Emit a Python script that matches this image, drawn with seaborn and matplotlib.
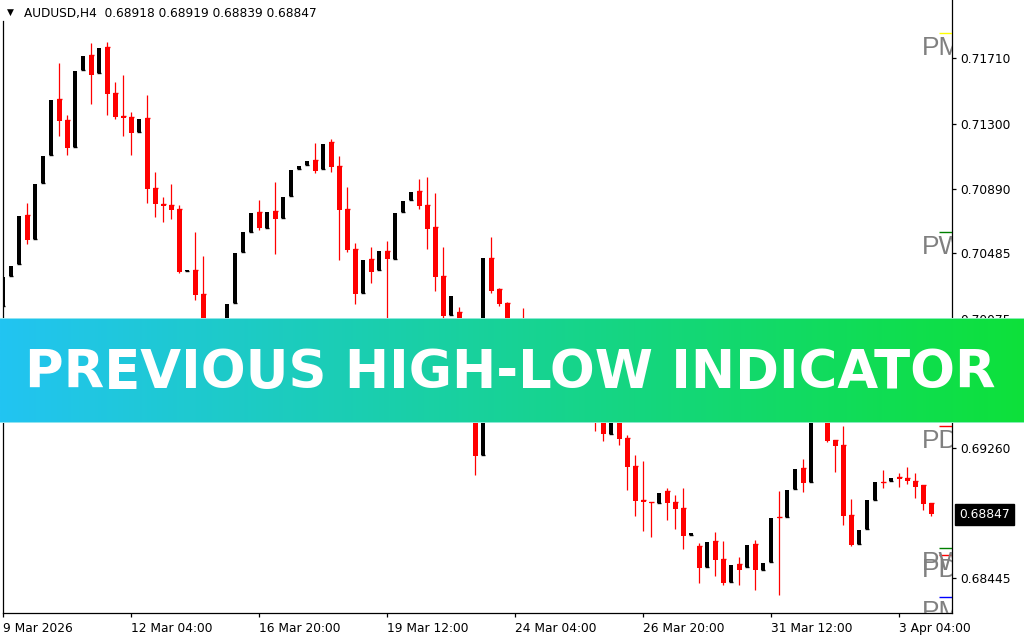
import numpy as np
import pandas as pd
import matplotlib
matplotlib.use("Agg")
import matplotlib.pyplot as plt
import matplotlib.transforms as mtransforms
import seaborn as sns

# ---------------- data (AUDUSD H4 candles) ----------------
opens = [0.70154, 0.70343, 0.70418, 0.70726, 0.70575, 0.70927, 0.71103, 0.71454, 0.71322, 0.71153,
         0.71636, 0.71731, 0.71618, 0.71781, 0.71492, 0.71348, 0.71341, 0.71247, 0.71335, 0.70895,
         0.70795, 0.70789, 0.70763, 0.70377, 0.70380, 0.70230, 0.69941, 0.69784, 0.69909, 0.70173,
         0.70493, 0.70619, 0.70745, 0.70644, 0.70751, 0.70707, 0.70845, 0.71015, 0.71040, 0.71071,
         0.71015, 0.71184, 0.71034, 0.70763, 0.70512, 0.70236, 0.70450, 0.70380, 0.70500, 0.70450,
         0.70745, 0.70820, 0.70877, 0.70789, 0.70650, 0.70343, 0.70098, 0.70117, 0.69909, 0.69614,
         0.69219, 0.70456, 0.70261, 0.70173, 0.69972, 0.70035, 0.69878, 0.69740, 0.69815, 0.69639,
         0.69564, 0.69614, 0.69501, 0.69451, 0.69501, 0.69451, 0.69350, 0.69451, 0.69327, 0.69151,
         0.68936, 0.68923, 0.68919, 0.68993, 0.68923, 0.68886, 0.68718, 0.68649, 0.68517, 0.68679,
         0.68566, 0.68423, 0.68534, 0.68517, 0.68660, 0.68498, 0.68549, 0.68829, 0.68831, 0.69007,
         0.69137, 0.69051, 0.69501, 0.69577, 0.69313, 0.69281, 0.68842, 0.68662, 0.68756, 0.68938,
         0.69051, 0.69053, 0.69080, 0.69074, 0.69055, 0.69030, 0.68918]
highs = [0.70338, 0.70406, 0.70720, 0.70803, 0.70921, 0.71096, 0.71448, 0.71680, 0.71354, 0.71630,
         0.71724, 0.71806, 0.71775, 0.71812, 0.71561, 0.71605, 0.71373, 0.71329, 0.71479, 0.70996,
         0.70839, 0.70921, 0.70789, 0.70380, 0.70619, 0.70468, 0.70004, 0.69909, 0.70167, 0.70487,
         0.70619, 0.70738, 0.70820, 0.70745, 0.70933, 0.70839, 0.71008, 0.71034, 0.71065, 0.71178,
         0.71172, 0.71203, 0.71096, 0.70902, 0.70550, 0.70443, 0.70525, 0.70500, 0.70563, 0.70738,
         0.70814, 0.70870, 0.70952, 0.70964, 0.70864, 0.70525, 0.70217, 0.70148, 0.69941, 0.69658,
         0.70456, 0.70588, 0.70267, 0.70179, 0.70035, 0.70142, 0.69909, 0.69815, 0.69847, 0.69690,
         0.69614, 0.69639, 0.69533, 0.69501, 0.69533, 0.69476, 0.69451, 0.69489, 0.69344, 0.69219,
         0.69181, 0.68923, 0.68980, 0.69011, 0.68967, 0.69011, 0.68729, 0.68668, 0.68672, 0.68735,
         0.68679, 0.68528, 0.68578, 0.68653, 0.68685, 0.68540, 0.68825, 0.68994, 0.68999, 0.69131,
         0.69194, 0.69501, 0.69577, 0.69595, 0.69313, 0.69401, 0.68942, 0.68748, 0.68938, 0.69049,
         0.69124, 0.69074, 0.69106, 0.69143, 0.69106, 0.69030, 0.68919]
lows = [0.70154, 0.70343, 0.70418, 0.70544, 0.70575, 0.70927, 0.71103, 0.71222, 0.71103, 0.71153,
        0.71636, 0.71423, 0.71618, 0.71354, 0.71329, 0.71222, 0.71103, 0.71247, 0.70801, 0.70713,
        0.70682, 0.70701, 0.70362, 0.70377, 0.70192, 0.69903, 0.69740, 0.69784, 0.69909, 0.70173,
        0.70493, 0.70619, 0.70632, 0.70644, 0.70481, 0.70707, 0.70845, 0.71015, 0.71040, 0.70990,
        0.71015, 0.70996, 0.70443, 0.70493, 0.70167, 0.70236, 0.70299, 0.70380, 0.70004, 0.70450,
        0.70745, 0.70820, 0.70763, 0.70512, 0.70249, 0.70079, 0.70098, 0.69878, 0.69577, 0.69093,
        0.69219, 0.70236, 0.70154, 0.69941, 0.69972, 0.69847, 0.69702, 0.69740, 0.69614, 0.69533,
        0.69564, 0.69476, 0.69426, 0.69451, 0.69369, 0.69307, 0.69350, 0.69281, 0.68999, 0.68836,
        0.68743, 0.68706, 0.68919, 0.68810, 0.68754, 0.68628, 0.68718, 0.68417, 0.68517, 0.68461,
        0.68404, 0.68423, 0.68404, 0.68517, 0.68373, 0.68498, 0.68549, 0.68341, 0.68831, 0.69007,
        0.68988, 0.69051, 0.69501, 0.69302, 0.69114, 0.68779, 0.68649, 0.68662, 0.68756, 0.68938,
        0.69013, 0.69053, 0.69020, 0.69037, 0.68950, 0.68871, 0.68839]
closes = [0.70338, 0.70406, 0.70720, 0.70569, 0.70921, 0.71096, 0.71448, 0.71316, 0.71147, 0.71630,
          0.71724, 0.71605, 0.71775, 0.71486, 0.71341, 0.71338, 0.71241, 0.71329, 0.70889, 0.70795,
          0.70785, 0.70757, 0.70368, 0.70380, 0.70223, 0.69941, 0.69784, 0.69909, 0.70167, 0.70487,
          0.70619, 0.70738, 0.70644, 0.70745, 0.70701, 0.70839, 0.71008, 0.71034, 0.71065, 0.71002,
          0.71172, 0.71027, 0.70757, 0.70506, 0.70230, 0.70443, 0.70368, 0.70500, 0.70450, 0.70738,
          0.70814, 0.70870, 0.70782, 0.70638, 0.70336, 0.70092, 0.70217, 0.69909, 0.69614, 0.69212,
          0.70456, 0.70249, 0.70167, 0.69972, 0.70035, 0.69878, 0.69740, 0.69815, 0.69639, 0.69564,
          0.69614, 0.69501, 0.69470, 0.69501, 0.69438, 0.69350, 0.69451, 0.69319, 0.69145, 0.68932,
          0.68923, 0.68917, 0.68980, 0.68919, 0.68881, 0.68712, 0.68729, 0.68511, 0.68672, 0.68561,
          0.68417, 0.68528, 0.68498, 0.68653, 0.68498, 0.68540, 0.68825, 0.68823, 0.68999, 0.69131,
          0.69045, 0.69501, 0.69577, 0.69308, 0.69277, 0.68837, 0.68653, 0.68748, 0.68938, 0.69049,
          0.69045, 0.69074, 0.69070, 0.69055, 0.69020, 0.68913, 0.68847]

x_tick_bars = [0, 16, 32, 48, 64, 80, 96, 112]
x_tick_labels = ["9 Mar 2026", "12 Mar 04:00", "16 Mar 20:00", "19 Mar 12:00",
                 "24 Mar 04:00", "26 Mar 20:00", "31 Mar 12:00", "3 Apr 04:00"]
y_ticks = [0.71710, 0.71300, 0.70890, 0.70485, 0.70075, 0.69260, 0.68445]

level_names = ["PM", "PW", "PD", "PW", "PD", "PM"]
level_values = [0.71867, 0.70617, 0.69401, 0.68635, 0.68589, 0.68325]
level_colors = ["#FFFF00", "#008000", "#FF0000", "#008000", "#FF0000", "#0000FF"]

symbol = "AUDUSD,H4"
banner_title = "PREVIOUS HIGH-LOW INDICATOR"

# ---------------- figure ----------------
sns.set_theme(style="white")
plt.rcParams["font.family"] = ["DejaVu Sans"]

W, H = 1024, 640
fig = plt.figure(figsize=(W / 100, H / 100), dpi=100)
fig.patch.set_facecolor("white")

# axes placement in pixels
ax_l, ax_r, ax_t, ax_b = 2.7, 952.3, 0.0, 613.3
ax = fig.add_axes([ax_l / W, 1 - ax_b / H, (ax_r - ax_l) / W, (ax_b - ax_t) / H])
ax.set_facecolor("white")

df = pd.DataFrame({"bar": np.arange(len(opens)), "open": opens, "high": highs,
                   "low": lows, "close": closes})
df["up"] = df["close"] >= df["open"]
up = df[df["up"]]
dn = df[~df["up"]]

w_up, w_dn = 0.5, 0.62
# wicks
ax.vlines(dn["bar"], dn["low"], dn["high"], color="#FF0000", lw=0.9, zorder=2)
ax.vlines(up["bar"], up["low"], up["high"], color="black", lw=0.9, zorder=2)
# bodies
ax.bar(dn["bar"], dn["open"] - dn["close"], bottom=dn["close"], width=w_dn,
       color="#FF0000", linewidth=0, zorder=3)
ax.bar(up["bar"], up["close"] - up["open"], bottom=up["open"], width=w_up,
       color="black", linewidth=0, zorder=3)
# thin line for doji bodies
ax.hlines(dn["open"], dn["bar"] - w_dn / 2, dn["bar"] + w_dn / 2, color="#FF0000", lw=1.0, zorder=3)
ax.hlines(up["open"], up["bar"] - w_up / 2, up["bar"] + w_up / 2, color="black", lw=1.0, zorder=3)

# pixel -> price scale
px_per_price = 15926.0
y_top_price = 0.71710 + (58.3 - ax_t) / px_per_price
y_bot_price = 0.71710 - (ax_b - 58.3) / px_per_price
bar_px = 8.0
x0 = -(3.3 - ax_l) / bar_px
x1 = x0 + (ax_r - ax_l) / bar_px
ax.set_xlim(x0, x1)
ax.set_ylim(y_bot_price, y_top_price)

# previous high / low levels
seg_start = (939 - 3.3) / bar_px
txt_x = (921.5 - 3.3) / bar_px
for name, val, col in zip(level_names, level_values, level_colors):
    ax.hlines(val, seg_start, x1, color=col, lw=1.0, zorder=4)
for name, val, col in zip(level_names, level_values, level_colors):
    ax.text(txt_x, val - 21.5 / px_per_price, name, color="#808080",
            fontsize=19, family=["Liberation Sans", "DejaVu Sans"],
            ha="left", va="baseline", clip_on=True, zorder=5)

# axes styling
ax.spines["top"].set_visible(False)
for s in ["left", "right", "bottom"]:
    ax.spines[s].set_visible(True)
    ax.spines[s].set_color("black")
    ax.spines[s].set_linewidth(0.9)
ax.spines["left"].set_bounds(y_bot_price, y_top_price - 21 / px_per_price)
ax.grid(False)

ax.yaxis.tick_right()
ax.set_yticks(y_ticks)
ax.set_yticklabels([f"{v:.5f}" for v in y_ticks])
ax.tick_params(axis="y", which="both", right=True, left=False, length=3, width=0.9,
               direction="out", pad=3, labelsize=8.8, colors="black")

ax.set_xticks(x_tick_bars)
ax.set_xticklabels(x_tick_labels)
ax.tick_params(axis="x", which="both", bottom=True, length=3, width=0.9,
               direction="out", pad=3, labelsize=8.8, colors="black")
for t in ax.get_xticklabels():
    t.set_ha("left")

# current price label
last = closes[-1]
ax.annotate(f"{last:.5f}", xy=(1.0, last),
            xycoords=mtransforms.blended_transform_factory(ax.transAxes, ax.transData),
            xytext=(4.9, 0), textcoords="offset points", ha="left", va="center",
            fontsize=8.8, color="white", annotation_clip=False,
            bbox=dict(boxstyle="square,pad=0.32", facecolor="black", edgecolor="black"))

# header
fig.text(10 / W, 1 - 12.5 / H, "\u25BC", fontsize=6.5, ha="center", va="center", color="black")
fig.text(23.5 / W, 1 - 13 / H,
         f"{symbol}  {opens[-1]:.5f} {highs[-1]:.5f} {lows[-1]:.5f} {closes[-1]:.5f}",
         fontsize=8.7, ha="left", va="center", color="black")

# banner
b_top, b_bot = 318.3, 423.3
bax = fig.add_axes([0, 1 - b_bot / H, 1, (b_bot - b_top) / H], zorder=10)
c_left = np.array([34, 196, 242]) / 255.0
c_right = np.array([13, 225, 58]) / 255.0
t = np.linspace(0, 1, 512)[None, :, None]
grad = c_left[None, None, :] * (1 - t) + c_right[None, None, :] * t
grad = np.repeat(grad, 2, axis=0)
bax.imshow(grad, aspect="auto", extent=[0, 1, 0, 1], interpolation="bilinear")
bax.set_xlim(0, 1)
bax.set_ylim(0, 1)
bax.axis("off")
bax.axhline(1.0, color="#c8f4f4", lw=1.2, alpha=0.8)
bax.axhline(0.0, color="#c8f4f4", lw=1.2, alpha=0.8)

title = bax.text(510 / W, (b_bot - 388) / (b_bot - b_top), banner_title, color="white",
                 fontsize=40, fontweight="bold", family=["DejaVu Sans"],
                 ha="center", va="baseline")
fig.canvas.draw()
bb = title.get_window_extent(renderer=fig.canvas.get_renderer())
target_w = 970.0
title.set_fontsize(40 * target_w / bb.width)

fig.savefig("out.png", dpi=100, facecolor="white")
